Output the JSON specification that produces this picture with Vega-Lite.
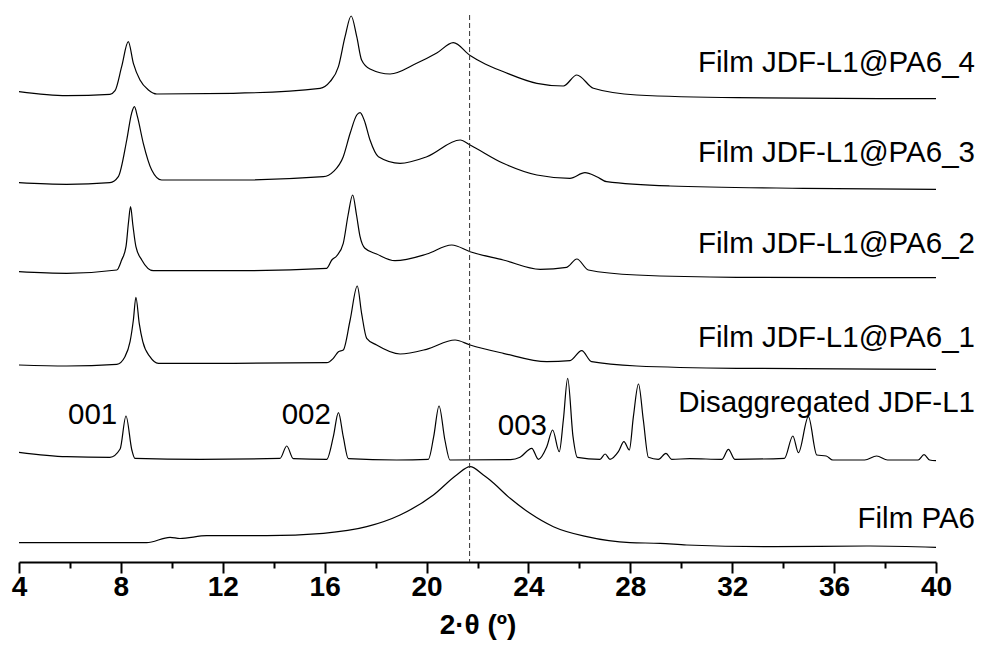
{
  "$schema": "https://vega.github.io/schema/vega-lite/v6.json",
  "width": 917,
  "height": 562,
  "autosize": {"type": "none"},
  "padding": {"left": 19, "top": 0, "right": 46, "bottom": 92},
  "background": "white",
  "config": {"view": {"stroke": null}},
  "datasets": {
    "traces": [
      {"series": "PA6_4", "theta": 4.0, "intensity": 470.3},
      {"series": "PA6_4", "theta": 5.87, "intensity": 466.3},
      {"series": "PA6_4", "theta": 7.57, "intensity": 467.7},
      {"series": "PA6_4", "theta": 7.77, "intensity": 471.3},
      {"series": "PA6_4", "theta": 8.03, "intensity": 495.3},
      {"series": "PA6_4", "theta": 8.29, "intensity": 520.3},
      {"series": "PA6_4", "theta": 8.49, "intensity": 498.7},
      {"series": "PA6_4", "theta": 8.75, "intensity": 482},
      {"series": "PA6_4", "theta": 9.08, "intensity": 472},
      {"series": "PA6_4", "theta": 9.41, "intensity": 468},
      {"series": "PA6_4", "theta": 12.41, "intensity": 468.7},
      {"series": "PA6_4", "theta": 15.82, "intensity": 473.7},
      {"series": "PA6_4", "theta": 16.21, "intensity": 480.3},
      {"series": "PA6_4", "theta": 16.54, "intensity": 495.3},
      {"series": "PA6_4", "theta": 16.8, "intensity": 525.3},
      {"series": "PA6_4", "theta": 17.04, "intensity": 546},
      {"series": "PA6_4", "theta": 17.26, "intensity": 525.3},
      {"series": "PA6_4", "theta": 17.45, "intensity": 502},
      {"series": "PA6_4", "theta": 17.78, "intensity": 493},
      {"series": "PA6_4", "theta": 18.57, "intensity": 488},
      {"series": "PA6_4", "theta": 19.61, "intensity": 498.7},
      {"series": "PA6_4", "theta": 20.4, "intensity": 509},
      {"series": "PA6_4", "theta": 21.05, "intensity": 519.3},
      {"series": "PA6_4", "theta": 21.71, "intensity": 506.5},
      {"series": "PA6_4", "theta": 22.3, "intensity": 498},
      {"series": "PA6_4", "theta": 23.0, "intensity": 490.5},
      {"series": "PA6_4", "theta": 24.33, "intensity": 478.7},
      {"series": "PA6_4", "theta": 25.37, "intensity": 476},
      {"series": "PA6_4", "theta": 25.9, "intensity": 487},
      {"series": "PA6_4", "theta": 26.55, "intensity": 473.7},
      {"series": "PA6_4", "theta": 28.25, "intensity": 467},
      {"series": "PA6_4", "theta": 32.18, "intensity": 464.3},
      {"series": "PA6_4", "theta": 40.0, "intensity": 463.3},

      {"series": "PA6_3", "theta": 4.0, "intensity": 379.3},
      {"series": "PA6_3", "theta": 5.87, "intensity": 377.7},
      {"series": "PA6_3", "theta": 7.57, "intensity": 379.3},
      {"series": "PA6_3", "theta": 7.9, "intensity": 385.3},
      {"series": "PA6_3", "theta": 8.23, "intensity": 422},
      {"series": "PA6_3", "theta": 8.42, "intensity": 448.7},
      {"series": "PA6_3", "theta": 8.53, "intensity": 455.3},
      {"series": "PA6_3", "theta": 8.65, "intensity": 445.3},
      {"series": "PA6_3", "theta": 8.88, "intensity": 418.7},
      {"series": "PA6_3", "theta": 9.21, "intensity": 392},
      {"series": "PA6_3", "theta": 9.6, "intensity": 382},
      {"series": "PA6_3", "theta": 12.4, "intensity": 382},
      {"series": "PA6_3", "theta": 15.95, "intensity": 385.3},
      {"series": "PA6_3", "theta": 16.34, "intensity": 390.3},
      {"series": "PA6_3", "theta": 16.73, "intensity": 405.3},
      {"series": "PA6_3", "theta": 17.0, "intensity": 428.7},
      {"series": "PA6_3", "theta": 17.26, "intensity": 447},
      {"series": "PA6_3", "theta": 17.39, "intensity": 449.3},
      {"series": "PA6_3", "theta": 17.55, "intensity": 442},
      {"series": "PA6_3", "theta": 17.78, "intensity": 422},
      {"series": "PA6_3", "theta": 18.11, "intensity": 405.3},
      {"series": "PA6_3", "theta": 18.96, "intensity": 398.7},
      {"series": "PA6_3", "theta": 20.01, "intensity": 405.3},
      {"series": "PA6_3", "theta": 21.32, "intensity": 422},
      {"series": "PA6_3", "theta": 21.71, "intensity": 417},
      {"series": "PA6_3", "theta": 23.01, "intensity": 398.7},
      {"series": "PA6_3", "theta": 24.33, "intensity": 387},
      {"series": "PA6_3", "theta": 25.63, "intensity": 383.7},
      {"series": "PA6_3", "theta": 26.22, "intensity": 389.3},
      {"series": "PA6_3", "theta": 26.68, "intensity": 385.3},
      {"series": "PA6_3", "theta": 27.07, "intensity": 380.3},
      {"series": "PA6_3", "theta": 29.56, "intensity": 376},
      {"series": "PA6_3", "theta": 34.79, "intensity": 373.7},
      {"series": "PA6_3", "theta": 40.0, "intensity": 372.7},

      {"series": "PA6_2", "theta": 4.0, "intensity": 290.3},
      {"series": "PA6_2", "theta": 5.87, "intensity": 288.7},
      {"series": "PA6_2", "theta": 7.84, "intensity": 292},
      {"series": "PA6_2", "theta": 8.03, "intensity": 302},
      {"series": "PA6_2", "theta": 8.2, "intensity": 315.3},
      {"series": "PA6_2", "theta": 8.3, "intensity": 340},
      {"series": "PA6_2", "theta": 8.38, "intensity": 355.3},
      {"series": "PA6_2", "theta": 8.47, "intensity": 337},
      {"series": "PA6_2", "theta": 8.59, "intensity": 315.3},
      {"series": "PA6_2", "theta": 8.82, "intensity": 302},
      {"series": "PA6_2", "theta": 9.27, "intensity": 291.3},
      {"series": "PA6_2", "theta": 12.4, "intensity": 291.3},
      {"series": "PA6_2", "theta": 16.08, "intensity": 293.7},
      {"series": "PA6_2", "theta": 16.28, "intensity": 302},
      {"series": "PA6_2", "theta": 16.47, "intensity": 306},
      {"series": "PA6_2", "theta": 16.73, "intensity": 318.7},
      {"series": "PA6_2", "theta": 16.92, "intensity": 347},
      {"series": "PA6_2", "theta": 17.1, "intensity": 367},
      {"series": "PA6_2", "theta": 17.25, "intensity": 347},
      {"series": "PA6_2", "theta": 17.39, "intensity": 325.3},
      {"series": "PA6_2", "theta": 17.58, "intensity": 313.7},
      {"series": "PA6_2", "theta": 18.04, "intensity": 308},
      {"series": "PA6_2", "theta": 18.76, "intensity": 301.3},
      {"series": "PA6_2", "theta": 20.01, "intensity": 308},
      {"series": "PA6_2", "theta": 20.99, "intensity": 317},
      {"series": "PA6_2", "theta": 21.71, "intensity": 310.3},
      {"series": "PA6_2", "theta": 23.01, "intensity": 302},
      {"series": "PA6_2", "theta": 24.46, "intensity": 292.7},
      {"series": "PA6_2", "theta": 25.5, "intensity": 294.7},
      {"series": "PA6_2", "theta": 25.9, "intensity": 303},
      {"series": "PA6_2", "theta": 26.35, "intensity": 292},
      {"series": "PA6_2", "theta": 28.25, "intensity": 287},
      {"series": "PA6_2", "theta": 32.18, "intensity": 284.7},
      {"series": "PA6_2", "theta": 40.0, "intensity": 284.3},

      {"series": "PA6_1", "theta": 4.0, "intensity": 197},
      {"series": "PA6_1", "theta": 5.87, "intensity": 196},
      {"series": "PA6_1", "theta": 7.84, "intensity": 197.7},
      {"series": "PA6_1", "theta": 8.16, "intensity": 205.3},
      {"series": "PA6_1", "theta": 8.36, "intensity": 220.3},
      {"series": "PA6_1", "theta": 8.49, "intensity": 242},
      {"series": "PA6_1", "theta": 8.59, "intensity": 264.7},
      {"series": "PA6_1", "theta": 8.72, "intensity": 238.7},
      {"series": "PA6_1", "theta": 8.86, "intensity": 220.3},
      {"series": "PA6_1", "theta": 9.14, "intensity": 205.3},
      {"series": "PA6_1", "theta": 9.47, "intensity": 198.7},
      {"series": "PA6_1", "theta": 12.41, "intensity": 198.7},
      {"series": "PA6_1", "theta": 16.08, "intensity": 199.3},
      {"series": "PA6_1", "theta": 16.34, "intensity": 203.7},
      {"series": "PA6_1", "theta": 16.54, "intensity": 210.3},
      {"series": "PA6_1", "theta": 16.73, "intensity": 212},
      {"series": "PA6_1", "theta": 17.0, "intensity": 242},
      {"series": "PA6_1", "theta": 17.28, "intensity": 276},
      {"series": "PA6_1", "theta": 17.45, "intensity": 248.7},
      {"series": "PA6_1", "theta": 17.65, "intensity": 223.7},
      {"series": "PA6_1", "theta": 18.04, "intensity": 217},
      {"series": "PA6_1", "theta": 18.96, "intensity": 208},
      {"series": "PA6_1", "theta": 20.0, "intensity": 212.7},
      {"series": "PA6_1", "theta": 21.12, "intensity": 222},
      {"series": "PA6_1", "theta": 21.71, "intensity": 217},
      {"series": "PA6_1", "theta": 23.01, "intensity": 208.7},
      {"series": "PA6_1", "theta": 24.72, "intensity": 200.3},
      {"series": "PA6_1", "theta": 25.63, "intensity": 201.3},
      {"series": "PA6_1", "theta": 26.09, "intensity": 211.3},
      {"series": "PA6_1", "theta": 26.48, "intensity": 200.3},
      {"series": "PA6_1", "theta": 28.25, "intensity": 196},
      {"series": "PA6_1", "theta": 32.18, "intensity": 193.7},
      {"series": "PA6_1", "theta": 40.0, "intensity": 192.7},

      {"series": "JDF", "theta": 4.0, "intensity": 109.7},
      {"series": "JDF", "theta": 5.87, "intensity": 105.3},
      {"series": "JDF", "theta": 7.57, "intensity": 104.7},
      {"series": "JDF", "theta": 7.97, "intensity": 113},
      {"series": "JDF", "theta": 8.2, "intensity": 146},
      {"series": "JDF", "theta": 8.43, "intensity": 112},
      {"series": "JDF", "theta": 8.55, "intensity": 103.7},
      {"series": "JDF", "theta": 11.1, "intensity": 102.7},
      {"series": "JDF", "theta": 14.25, "intensity": 103.7},
      {"series": "JDF", "theta": 14.51, "intensity": 116},
      {"series": "JDF", "theta": 14.77, "intensity": 103.3},
      {"series": "JDF", "theta": 16.08, "intensity": 102.7},
      {"series": "JDF", "theta": 16.34, "intensity": 125.3},
      {"series": "JDF", "theta": 16.54, "intensity": 149.3},
      {"series": "JDF", "theta": 16.73, "intensity": 125.3},
      {"series": "JDF", "theta": 16.93, "intensity": 103.3},
      {"series": "JDF", "theta": 18.83, "intensity": 102},
      {"series": "JDF", "theta": 20.07, "intensity": 102.7},
      {"series": "JDF", "theta": 20.28, "intensity": 125.3},
      {"series": "JDF", "theta": 20.49, "intensity": 156},
      {"series": "JDF", "theta": 20.72, "intensity": 122},
      {"series": "JDF", "theta": 20.92, "intensity": 102},
      {"series": "JDF", "theta": 23.3, "intensity": 102.3},
      {"series": "JDF", "theta": 23.67, "intensity": 104.7},
      {"series": "JDF", "theta": 24.13, "intensity": 113.7},
      {"series": "JDF", "theta": 24.39, "intensity": 102.7},
      {"series": "JDF", "theta": 24.72, "intensity": 115.3},
      {"series": "JDF", "theta": 24.95, "intensity": 132},
      {"series": "JDF", "theta": 25.21, "intensity": 110.3},
      {"series": "JDF", "theta": 25.37, "intensity": 142},
      {"series": "JDF", "theta": 25.54, "intensity": 183.7},
      {"series": "JDF", "theta": 25.75, "intensity": 125.3},
      {"series": "JDF", "theta": 25.92, "intensity": 104.7},
      {"series": "JDF", "theta": 26.81, "intensity": 102.7},
      {"series": "JDF", "theta": 27.01, "intensity": 108},
      {"series": "JDF", "theta": 27.2, "intensity": 102.7},
      {"series": "JDF", "theta": 27.53, "intensity": 110.3},
      {"series": "JDF", "theta": 27.75, "intensity": 120.3},
      {"series": "JDF", "theta": 27.96, "intensity": 112},
      {"series": "JDF", "theta": 28.12, "intensity": 145.3},
      {"series": "JDF", "theta": 28.32, "intensity": 178},
      {"series": "JDF", "theta": 28.51, "intensity": 142},
      {"series": "JDF", "theta": 28.71, "intensity": 104.7},
      {"series": "JDF", "theta": 29.1, "intensity": 102.7},
      {"series": "JDF", "theta": 29.4, "intensity": 108.7},
      {"series": "JDF", "theta": 29.62, "intensity": 102.7},
      {"series": "JDF", "theta": 30.34, "intensity": 103.3},
      {"series": "JDF", "theta": 31.6, "intensity": 102.7},
      {"series": "JDF", "theta": 31.85, "intensity": 112.7},
      {"series": "JDF", "theta": 32.1, "intensity": 102.7},
      {"series": "JDF", "theta": 34.05, "intensity": 103.7},
      {"series": "JDF", "theta": 34.38, "intensity": 126},
      {"series": "JDF", "theta": 34.6, "intensity": 109.3},
      {"series": "JDF", "theta": 34.99, "intensity": 145.3},
      {"series": "JDF", "theta": 35.32, "intensity": 107},
      {"series": "JDF", "theta": 35.69, "intensity": 106},
      {"series": "JDF", "theta": 35.95, "intensity": 102},
      {"series": "JDF", "theta": 37.2, "intensity": 102},
      {"series": "JDF", "theta": 37.67, "intensity": 106},
      {"series": "JDF", "theta": 38.1, "intensity": 102},
      {"series": "JDF", "theta": 39.3, "intensity": 102},
      {"series": "JDF", "theta": 39.53, "intensity": 107.3},
      {"series": "JDF", "theta": 39.75, "intensity": 102},
      {"series": "JDF", "theta": 40.0, "intensity": 101.3},

      {"series": "PA6", "theta": 4.0, "intensity": 19.3},
      {"series": "PA6", "theta": 9.01, "intensity": 19.3},
      {"series": "PA6", "theta": 9.93, "intensity": 24.7},
      {"series": "PA6", "theta": 10.32, "intensity": 23.5},
      {"series": "PA6", "theta": 11.37, "intensity": 26.3},
      {"series": "PA6", "theta": 13.73, "intensity": 26.3},
      {"series": "PA6", "theta": 15.95, "intensity": 28.7},
      {"series": "PA6", "theta": 17.65, "intensity": 35.3},
      {"series": "PA6", "theta": 18.96, "intensity": 47},
      {"series": "PA6", "theta": 20.27, "intensity": 67},
      {"series": "PA6", "theta": 21.18, "intensity": 87},
      {"series": "PA6", "theta": 21.71, "intensity": 95.3},
      {"series": "PA6", "theta": 22.23, "intensity": 87},
      {"series": "PA6", "theta": 22.49, "intensity": 82},
      {"series": "PA6", "theta": 23.28, "intensity": 63.7},
      {"series": "PA6", "theta": 24.06, "intensity": 48.7},
      {"series": "PA6", "theta": 24.98, "intensity": 35.3},
      {"series": "PA6", "theta": 26.29, "intensity": 25.3},
      {"series": "PA6", "theta": 27.99, "intensity": 19.3},
      {"series": "PA6", "theta": 29.17, "intensity": 18.7},
      {"series": "PA6", "theta": 30.21, "intensity": 17},
      {"series": "PA6", "theta": 33.49, "intensity": 15.3},
      {"series": "PA6", "theta": 37.41, "intensity": 16},
      {"series": "PA6", "theta": 40.0, "intensity": 14.7}
    ],
    "labels": [
      {"text": "Film JDF-L1@PA6_4", "theta": 41.53, "intensity": 490.3},
      {"text": "Film JDF-L1@PA6_3", "theta": 41.53, "intensity": 400.3},
      {"text": "Film JDF-L1@PA6_2", "theta": 41.53, "intensity": 308.7},
      {"text": "Film JDF-L1@PA6_1", "theta": 41.53, "intensity": 215.3},
      {"text": "Disaggregated JDF-L1", "theta": 41.53, "intensity": 150.3},
      {"text": "Film PA6", "theta": 41.53, "intensity": 33.7}
    ],
    "peaks": [
      {"text": "001", "theta": 6.89, "intensity": 138},
      {"text": "002", "theta": 15.28, "intensity": 138},
      {"text": "003", "theta": 23.76, "intensity": 127}
    ],
    "refline": [
      {"theta": 21.69, "intensity": 547, "base": 0}
    ]
  },
  "encoding": {
    "x": {
      "field": "theta",
      "type": "quantitative",
      "scale": {"domain": [4, 40], "nice": false, "zero": false},
      "axis": {
        "title": "2·θ (º)",
        "values": [4, 6, 8, 10, 12, 14, 16, 18, 20, 22, 24, 26, 28, 30, 32, 34, 36, 38, 40],
        "labelExpr": "datum.value % 4 === 0 ? datum.label : ''",
        "grid": false,
        "domainColor": "black",
        "domainWidth": 2,
        "tickColor": "black",
        "tickWidth": 2,
        "tickSize": {"condition": {"test": "datum.value % 4 === 0", "value": 11}, "value": 6},
        "labelFont": "Liberation Sans Narrow, Liberation Sans",
        "labelFontSize": 28,
        "labelFontWeight": "bold",
        "labelColor": "black",
        "labelPadding": 0,
        "labelFlush": false,
        "titleFont": "Liberation Sans Narrow, Liberation Sans",
        "titleFontSize": 28,
        "titleFontWeight": "bold",
        "titleColor": "black",
        "titlePadding": 10
      }
    },
    "y": {
      "field": "intensity",
      "type": "quantitative",
      "scale": {"domain": [0, 562], "nice": false, "zero": false},
      "axis": null
    }
  },
  "layer": [
    {
      "data": {"name": "traces"},
      "mark": {"type": "line", "color": "black", "strokeWidth": 1.2, "interpolate": "monotone"},
      "encoding": {"detail": {"field": "series"}}
    },
    {
      "data": {"name": "refline"},
      "mark": {"type": "rule", "color": "#333333", "strokeWidth": 1, "strokeDash": [5, 3]},
      "encoding": {"y2": {"field": "base"}}
    },
    {
      "data": {"name": "labels"},
      "mark": {"type": "text", "align": "right", "baseline": "alphabetic", "font": "Liberation Sans", "fontSize": 29.5, "color": "black"},
      "encoding": {"text": {"field": "text"}}
    },
    {
      "data": {"name": "peaks"},
      "mark": {"type": "text", "align": "center", "baseline": "alphabetic", "font": "Liberation Sans", "fontSize": 29.5, "color": "black"},
      "encoding": {"text": {"field": "text"}}
    }
  ]
}
